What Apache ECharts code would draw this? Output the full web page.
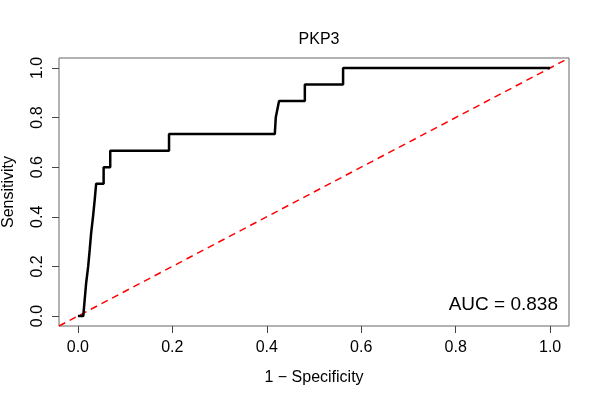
<!DOCTYPE html>
<html>
<head>
<meta charset="utf-8">
<script src="https://cdn.jsdelivr.net/npm/echarts@6/dist/echarts.min.js"></script>
<style>
  html, body { margin: 0; padding: 0; background: #fff; }
  #main { width: 600px; height: 400px; }
</style>
</head>
<body>
<div id="main"></div>
<script>
// ROC 曲线数据 (1 - 特异度, 灵敏度)
var fpr = [0, 0.0114, 0.0144, 0.0175, 0.0218, 0.025, 0.028, 0.032, 0.0355, 0.0387,
           0.0545, 0.0545, 0.0685, 0.0685, 0.193, 0.193, 0.417, 0.419, 0.426,
           0.4806, 0.4806, 0.5616, 0.5616, 1.0];
var tpr = [0, 0, 0.0667, 0.1333, 0.2, 0.2667, 0.3333, 0.4, 0.4667, 0.5333,
           0.5333, 0.6, 0.6, 0.6667, 0.6667, 0.7333, 0.7333, 0.8, 0.8667,
           0.8667, 0.9333, 0.9333, 1.0, 1.0];
// 参考对角线
var diagX = [-0.04, 1.04];
var diagY = [-0.04, 1.04];
// 刻度
var ticks = [0, 0.2, 0.4, 0.6, 0.8, 1.0];
var aucText = 'AUC = 0.838';

var font = 'Liberation Sans, Arial, Helvetica, sans-serif';

var rocData = fpr.map(function (x, i) { return [x, tpr[i]]; });
var diagData = diagX.map(function (x, i) { return [x, diagY[i]]; });

var chart = echarts.init(document.getElementById('main'));
var option = {
    backgroundColor: '#fff',
    animation: false,
    title: [{
        text: 'PKP3',
        left: 314,
        top: 27,
        textAlign: 'center',
        textStyle: { fontFamily: font, fontSize: 16, fontWeight: 'normal', color: '#000' }
    }, {
        text: aucText,
        right: 37,
        top: 290,
        textStyle: { fontFamily: font, fontSize: 19, fontWeight: 'normal', color: '#000' }
    }],
    grid: {
        left: 59, right: 31, top: 58, bottom: 74,
        outerBoundsMode: 'none',
        containLabel: false,
        show: true,
        borderColor: '#666',
        borderWidth: 1
    },
    xAxis: {
        type: 'value',
        min: -0.04,
        max: 1.04,
        name: '1 \u2212 Specificity',
        nameLocation: 'middle',
        nameGap: 44,
        nameTextStyle: { fontFamily: font, fontSize: 16, color: '#000' },
        axisLine: { show: false, onZero: false },
        splitLine: { show: false },
        axisTick: { show: true, length: 7, customValues: ticks, lineStyle: { color: '#444' } },
        axisLabel: {
            customValues: ticks,
            margin: 14,
            fontFamily: font, fontSize: 16, color: '#000',
            formatter: function (v) { return v.toFixed(1); }
        }
    },
    yAxis: {
        type: 'value',
        min: -0.04,
        max: 1.04,
        name: 'Sensitivity',
        nameLocation: 'middle',
        nameGap: 42,
        nameTextStyle: { fontFamily: font, fontSize: 16, color: '#000' },
        axisLine: { show: false, onZero: false },
        splitLine: { show: false },
        axisTick: { show: true, length: 7, customValues: ticks, lineStyle: { color: '#444' } },
        axisLabel: {
            customValues: ticks,
            rotate: 90,
            margin: 13,
            fontFamily: font, fontSize: 16, color: '#000',
            formatter: function (v) { return v.toFixed(1); }
        }
    },
    series: [{
        name: 'diag',
        type: 'line',
        data: diagData,
        showSymbol: false,
        silent: true,
        lineStyle: { color: '#ff0000', width: 1.5, type: [7, 5] },
        z: 2
    }, {
        name: 'ROC',
        type: 'line',
        data: rocData,
        showSymbol: false,
        lineStyle: { color: '#000', width: 2.5 },
        z: 3
    }]
};
chart.setOption(option, true);
</script>
</body>
</html>
